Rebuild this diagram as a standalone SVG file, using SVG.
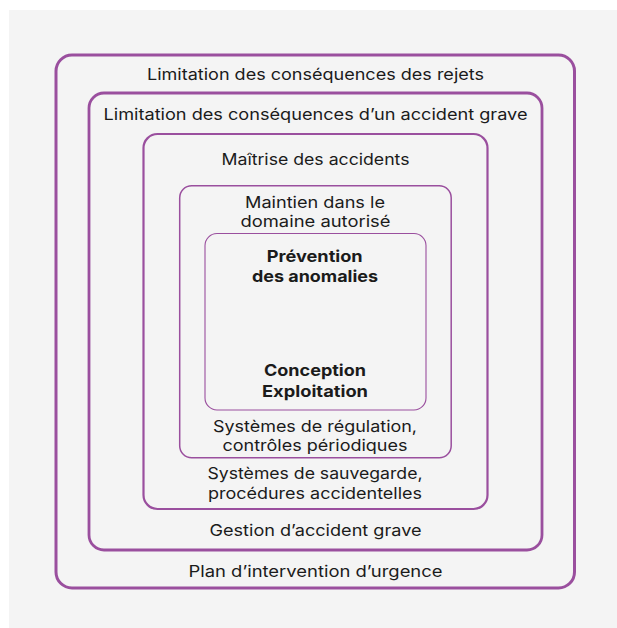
<svg xmlns="http://www.w3.org/2000/svg" width="617" height="628" viewBox="0 0 617 628">
  <style>
    .frame { fill: none; stroke: #9a4f9e; }
    .lbl { font-family: Inter, "Open Sans", "Liberation Sans", sans-serif; font-size: 16px; fill: #1b1b1b; text-anchor: middle; }
    .bold { font-weight: 700; }
  </style>
  <rect width="617" height="628" fill="#ffffff"/>
  <rect x="9" y="10" width="608" height="618" fill="#f4f4f4"/>

  <!-- Nested defence levels, outermost first -->
  <g id="level5">
    <rect class="frame" x="56" y="55" width="518.5" height="533" rx="16" stroke-width="3"/>
    <text class="lbl" x="315.5" y="80" textLength="337" lengthAdjust="spacingAndGlyphs">Limitation des conséquences des rejets</text>
    <text class="lbl" x="315.5" y="577" textLength="254" lengthAdjust="spacingAndGlyphs">Plan d’intervention d’urgence</text>
  </g>
  <g id="level4">
    <rect class="frame" x="89" y="93" width="453" height="457" rx="15" stroke-width="2.8"/>
    <text class="lbl" x="315.5" y="120" textLength="424" lengthAdjust="spacingAndGlyphs">Limitation des conséquences d’un accident grave</text>
    <text class="lbl" x="315.5" y="535.5" textLength="212" lengthAdjust="spacingAndGlyphs">Gestion d’accident grave</text>
  </g>
  <g id="level3">
    <rect class="frame" x="143.5" y="134" width="344" height="375" rx="14" stroke-width="2.2"/>
    <text class="lbl" x="315.5" y="165" textLength="188" lengthAdjust="spacingAndGlyphs">Maîtrise des accidents</text>
    <text class="lbl" x="315" y="479" textLength="215" lengthAdjust="spacingAndGlyphs">Systèmes de sauvegarde,</text>
    <text class="lbl" x="315" y="499" textLength="214" lengthAdjust="spacingAndGlyphs">procédures accidentelles</text>
  </g>
  <g id="level2">
    <rect class="frame" x="179.7" y="185.7" width="271.5" height="272" rx="12" stroke-width="1.5"/>
    <text class="lbl" x="315" y="207.5" textLength="140" lengthAdjust="spacingAndGlyphs">Maintien dans le</text>
    <text class="lbl" x="315.5" y="226.5" textLength="150" lengthAdjust="spacingAndGlyphs">domaine autorisé</text>
    <text class="lbl" x="315" y="431.5" textLength="204" lengthAdjust="spacingAndGlyphs">Systèmes de régulation,</text>
    <text class="lbl" x="315" y="451" textLength="185" lengthAdjust="spacingAndGlyphs">contrôles périodiques</text>
  </g>
  <g id="level1">
    <rect class="frame" x="205" y="233.5" width="221" height="176.5" rx="12" stroke-width="1.1"/>
    <text class="lbl bold" x="314.7" y="262" textLength="96" lengthAdjust="spacingAndGlyphs">Prévention</text>
    <text class="lbl bold" x="315" y="281.5" textLength="126" lengthAdjust="spacingAndGlyphs">des anomalies</text>
    <text class="lbl bold" x="315" y="376" textLength="102" lengthAdjust="spacingAndGlyphs">Conception</text>
    <text class="lbl bold" x="315" y="396.5" textLength="106" lengthAdjust="spacingAndGlyphs">Exploitation</text>
  </g>
  <g id="connectors"/>
</svg>
